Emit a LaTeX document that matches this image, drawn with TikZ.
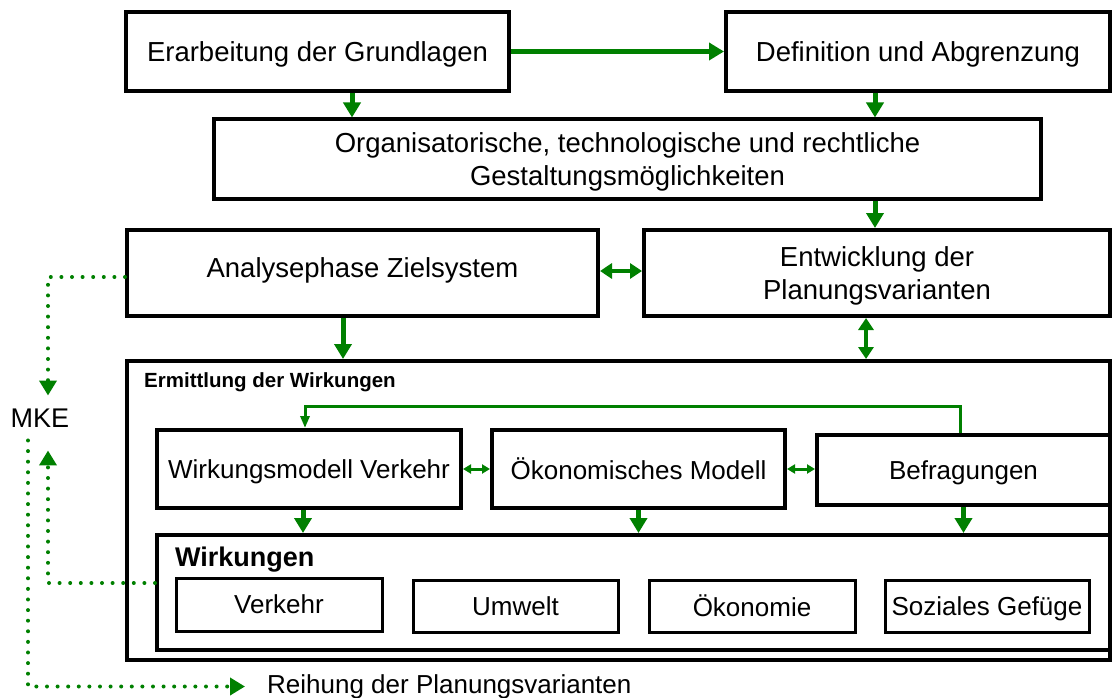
\documentclass[tikz,border=0pt]{standalone}
\usepackage{fontspec}
\setmainfont{Liberation Sans}
\usetikzlibrary{arrows.meta,calc}
\definecolor{gr}{RGB}{0,128,0}
\begin{document}
\begin{tikzpicture}[x=1pt,y=-1pt,
  box/.style={draw,line width=4pt,inner sep=2pt,align=center,text depth=0pt,font=\fontsize{27.5}{33.5}\selectfont},
  sbox/.style={draw,line width=3pt,inner sep=2pt,align=center,text depth=0pt,font=\fontsize{26}{30}\selectfont},
  bigarr/.style={draw=gr,line width=5pt,-{Triangle[length=15pt,width=17pt]}},
  dblarr/.style={draw=gr,line width=4pt,{Triangle[length=12pt,width=15pt]}-{Triangle[length=12pt,width=15pt]}},
  smalldbl/.style={draw=gr,line width=3pt,{Triangle[length=8pt,width=9pt]}-{Triangle[length=8pt,width=9pt]}},
  looparr/.style={draw=gr,line width=3pt,-{Triangle[length=12pt,width=9pt]}},
  dotarr/.style={draw=gr,line width=4pt,line cap=round,dash pattern=on 0pt off 10.6pt,-{Triangle[length=15pt,width=17pt]}},
  plain/.style={inner sep=0pt,font=\fontsize{26}{33}\selectfont}
]
\useasboundingbox[fill=white] (0,0) rectangle (1114,698);

% top boxes
\node[box,minimum width=383pt,minimum height=79pt] (erarb) at (317.5,51.5) {Erarbeitung der Grundlagen};
\node[box,minimum width=384pt,minimum height=79pt] (defin) at (918,51.5) {Definition und Abgrenzung};
\node[box,minimum width=827pt,minimum height=79pt] (org) at (627.5,159) {Organisatorische, technologische und rechtliche\\Gestaltungsmöglichkeiten};
\node[box,minimum width=471pt,minimum height=86pt,text depth=10pt] (analyse) at (362.5,273) {Analysephase Zielsystem};
\node[box,minimum width=466pt,minimum height=86pt] (entw) at (877,273) {Entwicklung der\\Planungsvarianten};

% Ermittlung der Wirkungen
\node[box,minimum width=983pt,minimum height=299pt] (ermitt) at (618.5,510.5) {};
\node[anchor=west,inner sep=0pt,font=\fontsize{20.5}{24}\bfseries] (ermlabel) at (144,382) {Ermittlung der Wirkungen};
\node[box,minimum width=304pt,minimum height=78pt,font=\fontsize{26}{30}\selectfont] (wmv) at (309,469) {Wirkungsmodell Verkehr};
\node[box,minimum width=293pt,minimum height=78pt,font=\fontsize{26}{30}\selectfont] (oekm) at (638.5,469) {Ökonomisches Modell};
\node[box,minimum width=293pt,minimum height=70pt,font=\fontsize{26}{30}\selectfont] (befr) at (963.5,470) {Befragungen};

% Wirkungen
\node[box,minimum width=953pt,minimum height=115pt] (wirk) at (633.5,592.5) {};
\node[anchor=west,inner sep=0pt,font=\fontsize{27}{30}\bfseries] (wirklabel) at (175,560) {Wirkungen};
\node[sbox,minimum width=206pt,minimum height=53pt] (verk) at (279,604.5) {Verkehr};
\node[sbox,minimum width=205pt,minimum height=52pt] (umw) at (515.5,606) {Umwelt};
\node[sbox,minimum width=206pt,minimum height=52pt] (oeko) at (752,606) {Ökonomie};
\node[sbox,minimum width=204pt,minimum height=52pt] (soz) at (987,606) {Soziales Gefüge};

% side labels
\node[plain,font=\fontsize{27}{33}\selectfont,inner ysep=13pt] (mke) at (40,418) {MKE};
\node[plain,anchor=west,inner xsep=22pt] (reih) at (245,686.5) {Reihung der Planungsvarianten};

% helper coordinates
\coordinate (a1) at ([xshift=34.5pt]erarb.south);
\coordinate (a2) at ([xshift=-43pt]defin.south);
\coordinate (a3) at ([xshift=247.5pt]org.south);
\coordinate (a4) at ([yshift=2pt]analyse.east);
\coordinate (a5) at ([xshift=-19.5pt]analyse.south);
\coordinate (a6) at ([xshift=-11pt]entw.south);
\coordinate (b1) at ([xshift=-3.5pt]befr.north);
\coordinate (b2) at ([xshift=-4pt]wmv.north);
\coordinate (loopy) at (0,406);
\coordinate (w1) at ([xshift=-6pt]wmv.south);
\coordinate (d1) at ([yshift=-4pt]analyse.west);
\coordinate (d2) at ([yshift=9.5pt]wirk.west);
\coordinate (xa) at (48,0);
\coordinate (xb) at (28,0);
\coordinate (mkeup) at ([yshift=-10pt]mke.south);

% main arrows
\draw[bigarr] (erarb.east) -- (defin.west);
\draw[bigarr] (a1) -- (a1 |- org.north);
\draw[bigarr] (a2) -- (a2 |- org.north);
\draw[bigarr] (a3) -- (a3 |- entw.north);
\draw[dblarr] (a4) -- (a4 -| entw.west);
\draw[bigarr] (a5) -- (a5 |- ermitt.north);
\draw[dblarr] (a6) -- (a6 |- ermitt.north);

% inside Ermittlung
\draw[looparr] (b1) -- (b1 |- loopy) -- (b2 |- loopy) -- (b2);
\draw[smalldbl] (wmv.east) -- (oekm.west);
\draw[smalldbl] (oekm.east) -- (oekm.east -| befr.west);
\draw[bigarr] (w1) -- (w1 |- wirk.north);
\draw[bigarr] (oekm.south) -- (oekm.south |- wirk.north);
\draw[bigarr] (befr.south) -- (befr.south |- wirk.north);

% dotted connectors
\draw[dotarr] (d1) -- (d1 -| xa) -- (xa |- mke.north);
\draw[dotarr] (d2) -- (d2 -| xa) -- (xa |- mkeup);
\draw[dotarr] (xb |- mke.south) -- (xb |- reih.west) -- (reih.west);
\end{tikzpicture}
\end{document}
